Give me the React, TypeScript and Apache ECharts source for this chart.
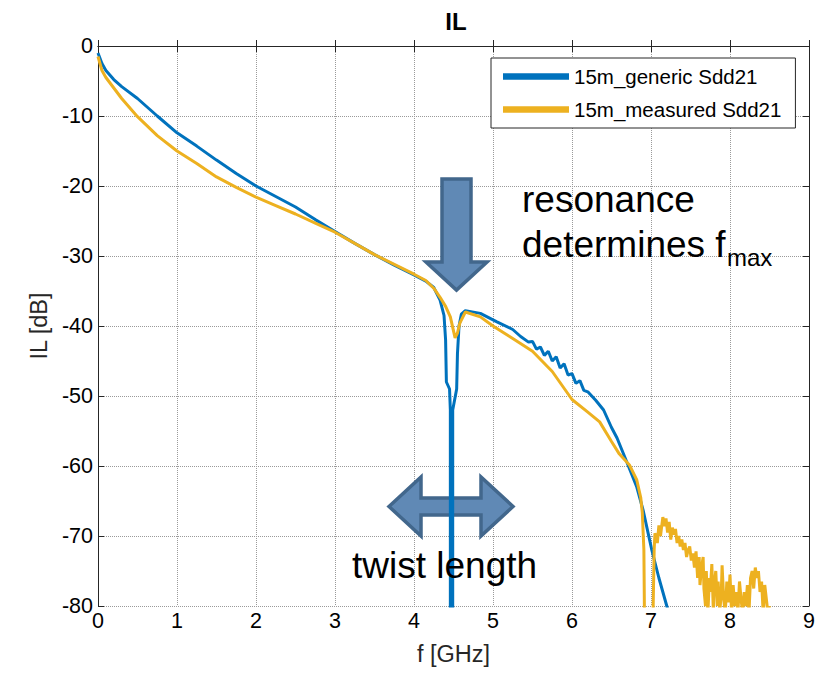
import React, { useEffect, useRef } from "react";
import * as echarts from "echarts";

const xTicks = [0, 1, 2, 3, 4, 5, 6, 7, 8, 9];
const yTicks = [0, -10, -20, -30, -40, -50, -60, -70, -80];
const seriesNames = ["15m_generic Sdd21", "15m_measured Sdd21"];

const genericF = [
  0, 0.05, 0.1, 0.2, 0.3, 0.5, 0.75, 1.0, 1.25, 1.5, 1.75, 2.0, 2.25, 2.5, 2.75, 3.0, 3.25, 3.5, 3.75, 4.0,
  4.15, 4.25, 4.33, 4.38, 4.4, 4.41, 4.45, 4.46, 4.46, 4.49, 4.49, 4.54, 4.55, 4.57, 4.6, 4.65, 4.84, 5.05,
  5.25, 5.35, 5.45, 5.5, 5.55, 5.6, 5.65, 5.7, 5.75, 5.8, 5.85, 5.9, 5.95, 6.0, 6.05, 6.1, 6.15, 6.2, 6.3,
  6.4, 6.5, 6.57, 6.7, 6.82, 6.9, 7.01, 7.1, 7.2, 7.25,
];
const genericIL = [
  -1, -2.5, -3.5, -4.8, -5.8, -7.5, -10, -12.4, -14.3, -16.3, -18.2, -20, -21.5, -23, -24.8, -26.5, -28.2,
  -29.8, -31.3, -32.7, -33.6, -34.5, -36.3, -38.5, -42, -48, -49, -52, -95, -95, -52, -49, -44, -40, -38.3,
  -37.8, -38.2, -39.4, -40.5, -41.5, -42.3, -42.2, -43.3, -43, -44.2, -43.6, -45, -44.4, -46, -45.4, -47,
  -46.8, -48.2, -47.8, -49.2, -49.4, -50.6, -52, -54.5, -56, -59.6, -63, -66.3, -72, -76, -80, -82,
];

const measuredF = [
  0, 0.05, 0.1, 0.2, 0.3, 0.5, 0.75, 1.0, 1.25, 1.5, 1.75, 2.0, 2.25, 2.5, 2.75, 3.0, 3.25, 3.5, 3.75, 4.0,
  4.15, 4.25, 4.33, 4.4, 4.46, 4.52, 4.55, 4.58, 4.65, 4.84, 5.0, 5.25, 5.5, 5.75, 6.0, 6.2, 6.35, 6.5, 6.6,
  6.73, 6.82, 6.87, 6.89, 6.91, 6.92, 7.02, 7.04, 7.05, 7.08, 7.1, 7.12, 7.15, 7.17, 7.19, 7.21, 7.23, 7.25,
  7.27, 7.29, 7.31, 7.33, 7.35, 7.37, 7.39, 7.41, 7.43, 7.45, 7.47, 7.49, 7.51, 7.53, 7.55, 7.57, 7.59, 7.61,
  7.62, 7.64, 7.66, 7.67, 7.69, 7.7, 7.72, 7.74, 7.75, 7.77, 7.79, 7.8, 7.82, 7.84, 7.85, 7.87, 7.89, 7.9,
  7.92, 7.94, 7.96, 7.98, 8.0, 8.02, 8.04, 8.06, 8.08, 8.1, 8.12, 8.14, 8.16, 8.18, 8.2, 8.22, 8.24, 8.26,
  8.28, 8.3, 8.32, 8.34, 8.36, 8.38, 8.4, 8.42, 8.44, 8.46, 8.48, 8.5,
];
const measuredIL = [
  -1.5, -3.5, -4.5, -6, -7.5, -10.1, -12.8, -15, -16.8, -18.7, -20.2, -21.6, -22.8, -24, -25.3, -26.6, -28.2,
  -29.8, -31.2, -32.6, -33.5, -34.6, -35.9, -37.2, -38.7, -41.7, -41, -39.6, -38, -38.7, -40, -41.8, -43.6,
  -46.5, -50.5, -52.3, -53.7, -56.5, -58.3, -59.9, -62, -64.5, -66.7, -72, -85, -85, -72, -69.6, -71, -68.5,
  -70, -67.3, -68.6, -67.5, -69.5, -68, -70.5, -68.8, -69.8, -69, -71, -70, -71.5, -70.5, -72, -71, -73, -72,
  -71.5, -73.5, -72.5, -74.5, -72.2, -76, -73, -77, -74.5, -73, -77.5, -80, -75, -81, -76, -78, -74, -81, -77,
  -75, -80, -76.5, -81, -78, -74.2, -79, -81, -76.5, -79.5, -75.5, -81, -77, -80, -78, -81, -76.5, -79, -81,
  -78, -80, -77, -81, -76, -75, -77.5, -74.5, -76, -75, -78, -76.5, -81, -77, -79, -81, -80,
];

const zip = (xs: number[], ys: number[]) => xs.map((x, i) => [x, ys[i]]);

const FONT = "'Liberation Sans', Arial, sans-serif";
const AX = "#262626";

export default function App() {
  const ref = useRef<HTMLDivElement>(null);
  useEffect(() => {
    if (!ref.current) return;
    const chart = echarts.init(ref.current, undefined, { renderer: "svg" });
    const gridLeft = 98, gridTop = 46, gridRight = 19, gridBottom = 67;
    const commonX = { type: "value", min: 0, max: 9, interval: 1 };
    const commonY = { type: "value", min: -80, max: 0, interval: 10 };
    chart.setOption({
      animation: false,
      backgroundColor: "#fff",
      textStyle: { fontFamily: FONT },
      title: {
        text: "IL",
        left: 451,
        textAlign: "center",
        top: 4,
        textStyle: { fontFamily: FONT, fontSize: 24, fontWeight: "bold", color: "#000" },
      },
      grid: { left: gridLeft, top: gridTop, right: gridRight, bottom: gridBottom, containLabel: false },
      legend: {
        orient: "vertical",
        left: 491,
        top: 58,
        data: seriesNames,
        itemWidth: 66,
        itemHeight: 14,
        itemGap: 12,
        padding: [8, 14, 8, 12],
        borderColor: AX,
        borderWidth: 1,
        backgroundColor: "#fff",
        textStyle: { fontFamily: FONT, fontSize: 20.5, color: "#000", lineHeight: 20 },
        icon: "path://M0,0 L10,0 L10,1 L0,1 Z",
        z: 10,
      },
      xAxis: [
        {
          ...commonX,
          name: "f [GHz]",
          nameLocation: "middle",
          nameGap: 36,
          nameTextStyle: { fontFamily: FONT, fontSize: 23.5, color: AX },
          axisLine: { show: true, lineStyle: { color: AX, width: 1 } },
          axisTick: { show: true, inside: true, length: 6, lineStyle: { color: AX } },
          axisLabel: { margin: 4, fontFamily: FONT, fontSize: 21.5, color: "#000" },
          splitLine: { show: true, lineStyle: { color: "#9a9a9a", type: "dotted", width: 1 } },
          data: xTicks,
        },
        {
          ...commonX,
          position: "top",
          axisLine: { show: true, onZero: false, lineStyle: { color: AX, width: 1 } },
          axisTick: { show: true, inside: true, length: 6, lineStyle: { color: AX } },
          axisLabel: { show: false },
          splitLine: { show: false },
        },
      ],
      yAxis: [
        {
          ...commonY,
          name: "IL [dB]",
          nameLocation: "middle",
          nameGap: 47,
          nameTextStyle: { fontFamily: FONT, fontSize: 23.5, color: AX },
          axisLine: { show: true, onZero: false, lineStyle: { color: AX, width: 1 } },
          axisTick: { show: true, inside: true, length: 6, lineStyle: { color: AX } },
          axisLabel: { margin: 5, fontFamily: FONT, fontSize: 21.5, color: "#000" },
          splitLine: { show: true, lineStyle: { color: "#9a9a9a", type: "dotted", width: 1 } },
          data: yTicks,
        },
        {
          ...commonY,
          position: "right",
          axisLine: { show: true, onZero: false, lineStyle: { color: AX, width: 1 } },
          axisTick: { show: true, inside: true, length: 6, lineStyle: { color: AX } },
          axisLabel: { show: false },
          splitLine: { show: false },
        },
      ],
      series: [
        {
          name: seriesNames[0],
          type: "line",
          data: zip(genericF, genericIL),
          showSymbol: false,
          symbol: "none",
          clip: true,
          z: 3,
          lineStyle: { color: "#0072BD", width: 3 },
          itemStyle: { color: "#0072BD" },
        },
        {
          name: seriesNames[1],
          type: "line",
          data: zip(measuredF, measuredIL),
          showSymbol: false,
          symbol: "none",
          clip: true,
          z: 4,
          lineStyle: { color: "#EDB120", width: 3 },
          itemStyle: { color: "#EDB120" },
        },
      ],
      graphic: [
        {
          type: "polygon",
          z: 1,
          shape: {
            points: [
              [442, 179], [471, 179], [471, 262], [487, 262], [456.5, 290], [426, 262], [442, 262],
            ],
          },
          style: { fill: "#6089B5", stroke: "#42678C", lineWidth: 3.5 },
        },
        {
          type: "polygon",
          z: 1,
          shape: {
            points: [
              [389, 506.5], [421, 477], [421, 498], [481, 498], [481, 477], [513, 506.5],
              [481, 536], [481, 515], [421, 515], [421, 536],
            ],
          },
          style: { fill: "#6089B5", stroke: "#42678C", lineWidth: 3.5 },
        },
        {
          type: "text",
          z: 100,
          x: 522,
          y: 199,
          style: { text: "resonance", fontFamily: FONT, fontSize: 37, fill: "#000", verticalAlign: "middle" },
        },
        {
          type: "text",
          z: 100,
          x: 522,
          y: 244,
          style: { text: "determines f", fontFamily: FONT, fontSize: 37, fill: "#000", verticalAlign: "middle" },
        },
        {
          type: "text",
          z: 100,
          x: 727,
          y: 257,
          style: { text: "max", fontFamily: FONT, fontSize: 24, fill: "#000", verticalAlign: "middle" },
        },
        {
          type: "text",
          z: 100,
          x: 352,
          y: 565,
          style: { text: "twist length", fontFamily: FONT, fontSize: 37, fill: "#000", verticalAlign: "middle" },
        },
      ],
    });
    return () => chart.dispose();
  }, []);
  return <div ref={ref} style={{ width: 828, height: 673, position: "absolute", left: 0, top: 0 }} />;
}
